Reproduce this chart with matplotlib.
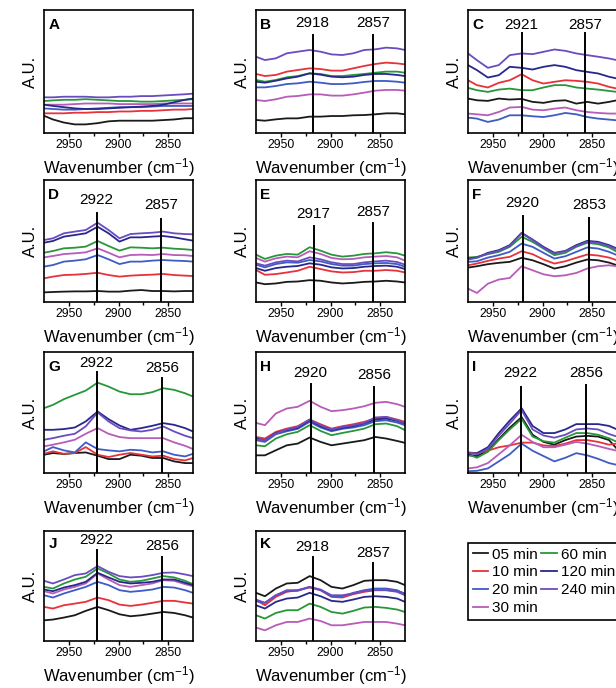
import matplotlib as mpl
from matplotlib import pyplot as plt
from matplotlib.lines import Line2D

plt.rcParams['font.family'] = ['Liberation Sans', 'DejaVu Sans']
plt.rcParams['mathtext.default'] = 'regular'

wavenumber = [2975, 2966, 2955, 2944, 2933, 2921, 2910, 2899, 2888, 2877, 2866, 2855, 2844, 2833, 2825]

tiempos = ['05 min', '10 min', '20 min', '30 min', '60 min', '120 min', '240 min']
colores = ['#1a1a1a', '#e8323a', '#3d5cc4', '#b75cb8', '#27973a', '#28288c', '#6a4cc0']

# one row per time, same order as tiempos (arbitrary units, % of panel height)
panel_a = [
    [14, 11, 8.5, 7, 7, 8, 9.5, 10, 10, 10, 10, 10.5, 11, 12, 12],
    [16, 16, 16, 16.5, 16.5, 17, 17, 17.5, 17.5, 18, 18, 18.5, 19, 19, 19.5],
    [20, 19.5, 19, 19, 19.5, 20, 20.5, 21, 21, 21, 21.5, 22, 22, 22, 22],
    [23, 23, 23, 23.5, 24, 24, 24, 23.5, 23.5, 23.5, 23.5, 24, 24, 24, 24],
    [26, 26.5, 27, 27, 27.5, 27, 26.5, 26, 26, 25.5, 25.5, 26, 26.5, 27, 27.5],
    [23, 22, 21, 20, 19.5, 19.5, 20, 20.5, 21, 21.5, 22, 23, 25, 27, 28],
    [29, 29, 29.5, 29.5, 29.5, 29, 29, 29.5, 29.5, 30, 30, 30.5, 31, 31.5, 32],
]
panel_b = [
    [10.6, 10, 11.1, 11.9, 11.9, 13.3, 13.3, 13.8, 13.8, 14.4, 14.6, 15.2, 16, 16, 15.2],
    [48, 46.3, 47.2, 49.9, 51.2, 52.6, 52, 50.7, 50.7, 52.6, 54.5, 56.1, 57.2, 56.6, 55.8],
    [37.1, 37.1, 38.2, 39.8, 40.4, 41.7, 40.9, 39.8, 39.8, 40.4, 41.5, 42.3, 42.3, 41.7, 40.9],
    [26.8, 26, 27.4, 29.5, 30.1, 31.4, 31.4, 30.4, 30.4, 31.4, 32.8, 34.4, 35, 35, 34.4],
    [43.1, 41.7, 43.1, 45.3, 46.3, 48.5, 48, 46.3, 46.3, 47.2, 48, 49, 49.9, 49.9, 49],
    [41.7, 40.9, 42.5, 44.4, 45.8, 48.5, 47.4, 45.8, 45.3, 45.8, 47.2, 48, 48, 47.2, 46.3],
    [62, 59.3, 60.7, 64.8, 66.1, 67.5, 66.1, 63.9, 63.4, 64.8, 67.5, 68, 69.4, 68.8, 67.5],
]
panel_c = [
    [28, 26.6, 26.1, 28, 27.2, 27.7, 25.3, 24.5, 26.1, 26.6, 23.9, 25.3, 23.9, 25.3, 26.6],
    [42.9, 38.9, 37, 40.8, 42.9, 47.8, 42.9, 40.2, 41.6, 42.9, 42.4, 41.6, 40.2, 37.5, 36.1],
    [12.5, 11.7, 9, 10.9, 14.4, 14.4, 13.6, 13, 14.4, 16.3, 15.2, 13, 11.7, 10.9, 10.3],
    [15.8, 15.2, 14.4, 17.1, 20.7, 21.2, 19, 18.5, 19.8, 20.7, 18.5, 17.1, 16.3, 15.8, 15.8],
    [36.7, 34.8, 33.4, 35.3, 36.1, 34.8, 34.8, 37, 38.9, 38.9, 37, 36.1, 35.3, 34.2, 33.4],
    [55.2, 51.1, 45.1, 47, 53.8, 53, 51.6, 53.8, 55.2, 53.8, 51.1, 49.7, 48.4, 45.7, 44.3],
    [64.7, 59.2, 53, 55.2, 63.3, 64.7, 64.1, 66, 67.9, 66.8, 64.7, 63.3, 62, 60.6, 59.2],
]
panel_d = [
    [7.9, 8.2, 8.5, 8.7, 8.7, 9, 8.5, 8.5, 9.3, 9.8, 9, 9, 8.7, 9, 9],
    [19.4, 20.8, 22.1, 22.4, 23, 24, 22.1, 20.8, 21.6, 22.1, 22.4, 23, 22.1, 21.6, 21.3],
    [29, 30.3, 33.1, 33.9, 35, 38.5, 35, 31.1, 33.1, 33.1, 33.9, 34.4, 33.9, 33.6, 33.1],
    [36.6, 37.7, 39.3, 39.9, 40.7, 44, 40.4, 36.6, 38.5, 38.8, 38.5, 39.3, 38.5, 38.3, 37.7],
    [40.4, 41.8, 44, 44.5, 45.4, 50, 45.9, 42.1, 44.8, 44.5, 44, 44.5, 43.7, 43.2, 42.6],
    [48.6, 50, 53.6, 54.9, 56.3, 61.7, 56.3, 49.5, 53, 53, 53.6, 54.1, 53, 51.4, 50.3],
    [50.8, 52.2, 56.3, 57.7, 59, 65, 59, 52.2, 55.7, 56.3, 56.8, 57.7, 56.3, 55.7, 55.5],
]
panel_e = [
    [16, 14.6, 15.2, 16.5, 16.8, 17.9, 17.4, 16, 15.2, 15.7, 16.5, 16.8, 17.4, 16.8, 16],
    [26.2, 22.3, 22.9, 24.2, 25.6, 28.9, 27, 25.1, 24.2, 24.5, 25.6, 25.6, 26.2, 25.6, 24.2],
    [30.6, 28.4, 31.1, 32.5, 32.2, 34.4, 33.3, 31.1, 29.8, 29.8, 31.1, 31.7, 32, 31.1, 28.9],
    [36.1, 33.1, 35.8, 37.2, 36.6, 41.6, 39.4, 36.1, 35, 35.3, 36.6, 37.2, 37.7, 36.6, 33.9],
    [38.8, 35.3, 38, 39.4, 38.8, 44.9, 42.1, 38.8, 37.2, 38, 39.4, 39.9, 40.8, 39.9, 38],
    [27.8, 25.6, 27.8, 28.9, 29.5, 31.7, 30.6, 28.4, 27.5, 27.8, 28.9, 29.5, 29.8, 28.9, 27],
    [31.7, 29.8, 32.5, 33.9, 33.3, 36.6, 35, 32.5, 31.1, 31.1, 32.5, 33.3, 33.9, 32.8, 30.6],
]
panel_f = [
    [28.2, 29.3, 31, 32.1, 32.9, 36.2, 34.2, 31, 27.4, 29.3, 32.3, 34.8, 34.2, 32.3, 30.1],
    [30.1, 31.5, 33.7, 35.6, 37, 41.6, 39.2, 34.8, 31.5, 33.4, 36.2, 38.9, 38.1, 36.4, 34.2],
    [32.9, 33.4, 36.4, 38.4, 41.1, 47.9, 45.2, 40.3, 35.6, 37.5, 41.1, 44.7, 43.8, 41.1, 38.4],
    [11, 7.4, 15, 18.4, 19.7, 29.3, 26, 22.7, 21.1, 21.9, 23.8, 27.4, 29.3, 30.1, 29.3],
    [36.4, 37, 39.2, 41.1, 45.2, 53.4, 49.3, 43.8, 38.4, 40.3, 45.2, 48.5, 47.4, 44.7, 41.1],
    [35.6, 36.4, 40.3, 42.5, 46.6, 56.7, 51.2, 45.2, 40.3, 41.9, 46.6, 50.1, 49.3, 46.6, 43.8],
    [34.8, 36.2, 39.7, 41.9, 46, 56.2, 50.7, 44.4, 39.7, 41.6, 45.8, 49.3, 48.5, 45.8, 43],
]
panel_g = [
    [15.1, 16.5, 15.7, 16.5, 17, 14.3, 11.5, 11.5, 15.1, 14.3, 12.4, 12.4, 9.6, 8.2, 8.2],
    [15.9, 17.9, 15.9, 16.5, 21.4, 15.1, 13.2, 15.1, 16.5, 15.1, 13.7, 14.3, 11.5, 10.4, 12.4],
    [17.9, 21.4, 18.7, 17, 25.3, 19.8, 18.7, 17.9, 19.2, 18.7, 17, 17.9, 15.1, 13.7, 15.9],
    [22, 23.4, 25.3, 27.5, 32.4, 37.1, 32.4, 29.7, 28.8, 28.8, 28.8, 28.8, 25.3, 22.5, 19.8],
    [53.6, 56.3, 61, 64.6, 68.1, 74.7, 71.4, 67.3, 65.1, 65.1, 66.8, 70.1, 68.7, 65.9, 63.2],
    [35.7, 35.7, 36.3, 37.6, 42.6, 50.8, 44.5, 39.3, 35.7, 37.1, 39, 41.2, 39.8, 37.1, 34.3],
    [27.5, 28.8, 30.8, 32.4, 38.5, 50, 42.6, 37.1, 35.2, 34.3, 35.7, 38.5, 34.3, 30.8, 28.8],
]
panel_h = [
    [14.6, 14.6, 18.8, 22.9, 24.3, 29.3, 25.7, 22.9, 24.3, 25.7, 27.1, 29.8, 28.5, 26.5, 24.9],
    [29.8, 28.5, 34, 36.7, 38.7, 44.2, 40.3, 36.7, 38.7, 40.3, 42.3, 45, 46.4, 44.2, 42.3],
    [27.1, 25.7, 32, 34.5, 36.5, 42.3, 37.6, 34.5, 36.5, 37.6, 39.5, 42.8, 43.6, 41.7, 39.5],
    [41.4, 39.5, 49.2, 53.3, 54.7, 59.7, 54.7, 51.1, 51.9, 53.3, 55.2, 58, 58.8, 56.9, 54.7],
    [22.9, 22.1, 28.5, 32, 34, 39.5, 34.8, 31.2, 33.1, 34.8, 36.7, 40.3, 40.9, 38.7, 35.4],
    [28.5, 27.1, 33.1, 35.4, 37.3, 43.6, 38.7, 35.4, 37.3, 38.7, 40.9, 44.2, 45, 43.1, 40.9],
    [27.6, 27.1, 32.6, 35.9, 38.1, 44.2, 39.5, 35.9, 38.1, 39.5, 41.4, 45.9, 46.4, 43.6, 41.4],
]
panel_i = [
    [14.6, 14, 18.4, 28.1, 37.4, 46.2, 31.6, 25.7, 23.4, 27.2, 30.1, 30.7, 30.1, 27.2, 19.9],
    [17, 16.4, 18.4, 21.3, 22.8, 25.1, 25.1, 22.8, 22.2, 24.3, 27.2, 27.2, 25.7, 23.4, 24.3],
    [1.5, 1.8, 3.8, 9.6, 15.5, 24.3, 18.4, 14, 9.6, 12.6, 16.4, 14.6, 11.7, 8.2, 6.7],
    [3.8, 4.7, 8.2, 15.5, 22.8, 31.6, 25.7, 21.3, 21.3, 23.4, 25.7, 24.3, 22.2, 19.9, 18.4],
    [15.5, 12.6, 17.5, 27.2, 36, 44.7, 30.1, 26.3, 25.1, 29.2, 33, 33, 31.6, 28.7, 25.7],
    [15.5, 16.4, 21.3, 33, 43.3, 53.5, 38.9, 33, 33, 36, 40.4, 40.4, 40.4, 38.9, 36],
    [17, 15.5, 19.9, 31, 40.9, 52, 36, 31, 29.2, 31.6, 36, 36.8, 36, 32.2, 30.1],
]
panel_j = [
    [18.8, 19.5, 21.3, 23.4, 27.4, 31, 28, 24.3, 22.5, 23.4, 24.9, 26.4, 25.5, 23.4, 21.3],
    [31, 29.5, 32.5, 34, 35.6, 39.5, 37.1, 33.1, 31.9, 33.1, 34.7, 36.5, 36.5, 35, 34],
    [41.6, 39.5, 43.2, 46.2, 49.2, 53.8, 50.8, 46.2, 44.7, 45.6, 46.8, 49.2, 48.6, 46.2, 43.8],
    [45.3, 43.2, 46.8, 49.2, 52.3, 61.4, 55.9, 50.8, 49.2, 50.8, 52.3, 55.3, 54.7, 51.7, 49.8],
    [49.2, 47.7, 52.3, 55.9, 58.4, 66, 61.4, 55.9, 53.8, 54.7, 56.8, 59, 57.8, 54.7, 51.7],
    [46.8, 45.3, 48.6, 50.8, 53.8, 62, 57.8, 53.8, 52.3, 52.9, 53.8, 55.9, 55.9, 52.9, 50.8],
    [54.7, 52.3, 55.9, 59.9, 61.4, 68.1, 62.9, 59, 57.8, 58.4, 59.9, 62, 62.3, 60.5, 59],
]
panel_k = [
    [43.8, 40.7, 47.7, 52.3, 52.9, 59, 55.3, 49.2, 47.7, 50.8, 54.7, 55.3, 55.3, 53.8, 50.8],
    [37.1, 32.5, 40.1, 44.7, 46.2, 48.6, 46.2, 40.1, 39.5, 42.6, 44.7, 46.2, 46.2, 45.6, 43.2],
    [36.2, 34.7, 41.6, 45.3, 45.6, 49.2, 46.2, 40.7, 40.7, 43.8, 46.2, 47.7, 47.7, 46.2, 42.6],
    [12.2, 9.7, 14.3, 17.3, 17.3, 20.4, 18.2, 14.3, 14.3, 15.8, 17.3, 17.3, 17.3, 15.8, 14.3],
    [23.4, 20.4, 25.5, 28, 28, 34, 31, 26.4, 24.9, 27.4, 30.4, 31, 30.1, 28.6, 26.4],
    [32.5, 29.5, 35.6, 38.6, 39.5, 43.8, 40.7, 36.5, 35.6, 37.7, 40.1, 40.7, 40.1, 38.6, 35.6],
    [37.7, 34.7, 41.6, 46.2, 46.2, 49.2, 46.8, 41.6, 41.6, 43.2, 45.6, 46.2, 46.2, 44.7, 41.6],
]

# (band, top of the line, height of the label) in axes fraction
picos_b = [(2918, 0.80, 0.895), (2857, 0.80, 0.895)]
picos_c = [(2921, 0.81, 0.88), (2857, 0.81, 0.88)]
picos_d = [(2922, 0.73, 0.835), (2857, 0.68, 0.795)]
picos_e = [(2917, 0.62, 0.725), (2857, 0.645, 0.74)]
picos_f = [(2920, 0.705, 0.81), (2853, 0.686, 0.795)]
picos_g = [(2922, 0.837, 0.91), (2856, 0.783, 0.865)]
picos_h = [(2920, 0.736, 0.83), (2856, 0.713, 0.81)]
picos_i = [(2922, 0.708, 0.825), (2856, 0.727, 0.83)]
picos_j = [(2922, 0.827, 0.92), (2856, 0.766, 0.865)]
picos_k = [(2918, 0.76, 0.857), (2857, 0.712, 0.803)]

paneles = [
    ('A', panel_a, [], 0, 0), ('B', panel_b, picos_b, 1, 0), ('C', panel_c, picos_c, 2, 0),
    ('D', panel_d, picos_d, 0, 1), ('E', panel_e, picos_e, 1, 1), ('F', panel_f, picos_f, 2, 1),
    ('G', panel_g, picos_g, 0, 2), ('H', panel_h, picos_h, 1, 2), ('I', panel_i, picos_i, 2, 2),
    ('J', panel_j, picos_j, 0, 3), ('K', panel_k, picos_k, 1, 3),
]

W, H = 616, 688
columnas = [44, 256, 468]
filas = [(10, 133), (180, 302), (352, 473), (531, 641)]


def caja(col, fila):
    top, bot = filas[fila]
    return [columnas[col] / W, 1 - bot / H, 149 / W, (bot - top) / H]


def espectro(ax, letra, datos, picos):
    for serie, color in zip(datos, colores):
        ax.plot(wavenumber, serie, color=color, lw=1.3)
    for wn, ytop, ytxt in picos:
        ax.axvline(wn, ymin=0, ymax=ytop, color='black', lw=1.4)
        ax.text(wn, ytxt, str(wn), transform=ax.get_xaxis_transform(),
                ha='center', va='center', fontsize=11)
    ax.text(0.03, 0.878, letra, transform=ax.transAxes, fontweight='bold',
            fontsize=11, va='center')
    ax.set_xlim(2975, 2825)
    ax.set_ylim(0, 100)
    ax.set_xticks([2950, 2900, 2850])
    ax.set_xticks([2925, 2875], minor=True)
    ax.set_yticks([])
    ax.tick_params(axis='x', which='major', direction='out', length=3, width=1,
                   labelsize=8.8, pad=1)
    ax.tick_params(axis='x', which='minor', direction='out', length=2.5, width=1)
    for s in ax.spines.values():
        s.set_linewidth(1.2)
    ax.set_xlabel('Wavenumber (cm$^{-1}$)', fontsize=12, labelpad=4)
    ax.set_ylabel('A.U.', fontsize=12, labelpad=4)


fig = plt.figure(figsize=(W / 100, H / 100), dpi=100)
for letra, datos, picos, col, fila in paneles:
    ax = fig.add_axes(caja(col, fila))
    espectro(ax, letra, datos, picos)

lineas = [Line2D([], [], color=c, lw=1.3) for c in colores]
leg = fig.legend(lineas, tiempos, ncol=2, loc='upper left',
                 bbox_to_anchor=(468 / W, 1 - 543 / H), fontsize=11,
                 frameon=True, fancybox=False, edgecolor='black', framealpha=1,
                 handlelength=1.0, handletextpad=0.3, columnspacing=0.2,
                 labelspacing=0.25, borderpad=0.3, borderaxespad=0)
leg.get_frame().set_linewidth(1.2)

fig.savefig('out.png', dpi=100)
